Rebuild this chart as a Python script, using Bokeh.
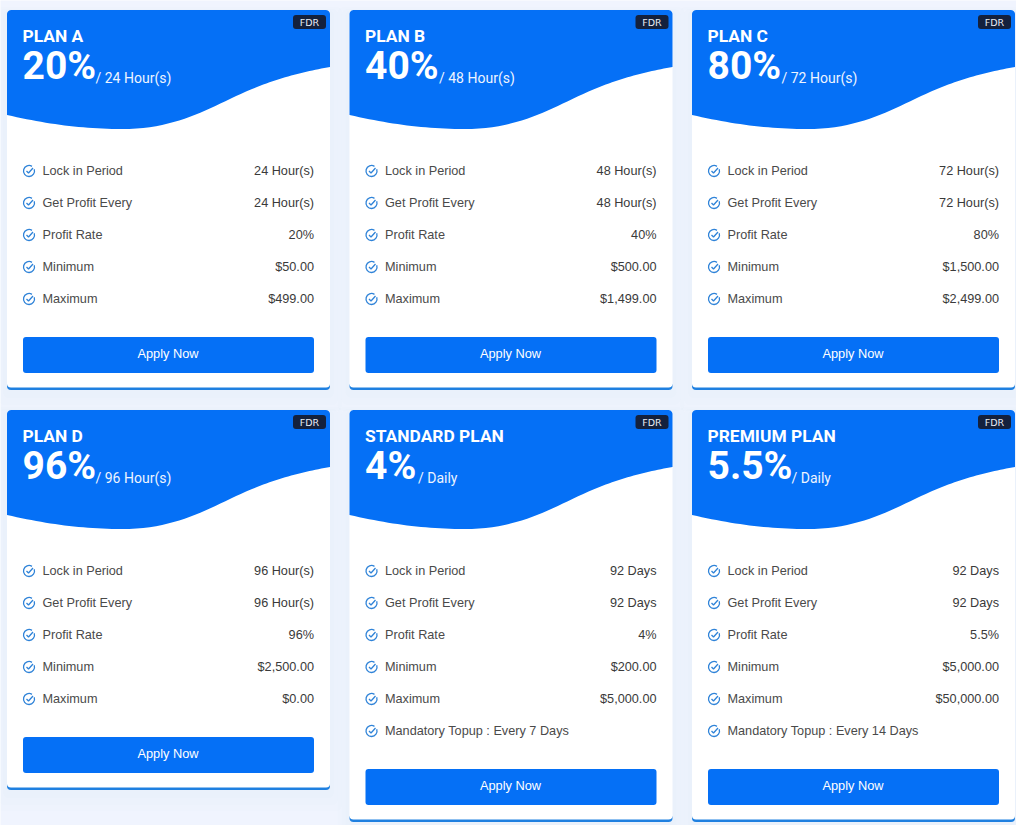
from bokeh.core.properties import value
from bokeh.embed import file_html
from bokeh.models import Range1d
from bokeh.plotting import figure
from bokeh.resources import INLINE

# values
plan_names = ["PLAN A", "PLAN B", "PLAN C", "PLAN D", "STANDARD PLAN", "PREMIUM PLAN"]
plan_rates = ["20%", "40%", "80%", "96%", "4%", "5.5%"]
plan_terms = ["/ 24 Hour(s)", "/ 48 Hour(s)", "/ 72 Hour(s)", "/ 96 Hour(s)", "/ Daily", "/ Daily"]
lock_periods = ["24 Hour(s)", "48 Hour(s)", "72 Hour(s)", "96 Hour(s)", "92 Days", "92 Days"]
profit_every = ["24 Hour(s)", "48 Hour(s)", "72 Hour(s)", "96 Hour(s)", "92 Days", "92 Days"]
profit_rates = ["20%", "40%", "80%", "96%", "4%", "5.5%"]
minimums = ["$50.00", "$500.00", "$1,500.00", "$2,500.00", "$200.00", "$5,000.00"]
maximums = ["$499.00", "$1,499.00", "$2,499.00", "$0.00", "$5,000.00", "$50,000.00"]
topups = [None, None, None, None, "Mandatory Topup : Every 7 Days", "Mandatory Topup : Every 14 Days"]
row_labels = ["Lock in Period", "Get Profit Every", "Profit Rate", "Minimum", "Maximum"]
badge_text = "FDR"
button_text = "Apply Now"

# layout
card_lefts = [7, 349.5, 692]
card_tops = [10, 410]
card_w = 323
rate_widths = [73, 74, 74, 73, 53, 84]

BLUE = "#0570f6"
LINE_BLUE = "#2f83d8"
BG = "#f0f4fe"
TITLE_FONT = "Roboto"
BODY_FONT = "Liberation Sans"


def bezier(p0, p1, p2, p3, n=24):
    out = []
    for i in range(n + 1):
        t = i / n
        a, b, c, d = (1 - t) ** 3, 3 * t * (1 - t) ** 2, 3 * t * t * (1 - t), t ** 3
        out.append((a * p0[0] + b * p1[0] + c * p2[0] + d * p3[0],
                    a * p0[1] + b * p1[1] + c * p2[1] + d * p3[1]))
    return out


# header outline, relative to the top left of a card
wave = (bezier((323, 57), (300, 61), (275, 67), (250, 77))
        + bezier((250, 77), (205, 95), (175, 119), (115, 119))
        + bezier((115, 119), (75, 119), (40, 114), (0, 105)))
corner_l = bezier((0, 4), (0, 2), (2, 0), (4, 0), 6)
corner_r = bezier((319, 0), (321, 0), (323, 2), (323, 4), 6)
header = corner_l + corner_r + wave

p = figure(width=1016, height=825, output_backend="svg", toolbar_location=None,
           x_range=Range1d(0.5, 1016.5), y_range=Range1d(825.5, 0.5), min_border=0)
p.axis.visible = False
p.grid.visible = False
p.outline_line_color = None
p.background_fill_color = BG
p.border_fill_color = BG


def add_text(x, y, text, size, color, font, align="left", style="normal"):
    p.text(x=[x], y=[y], text=[text], text_font=value(font), text_font_size=f"{size}px",
           text_color=color, text_align=align, text_baseline="middle",
           text_font_style=style)


def card_bottom(i):
    return card_tops[i // 3] + 380 + (32 if topups[i] else 0)


# soft shadows go underneath every card
for i in range(6):
    x0 = card_lefts[i % 3]
    for grow, drop in [(12, 9), (8, 7), (4, 4)]:
        p.quad(left=[x0 - grow], right=[x0 + card_w + grow], top=[card_tops[i // 3] - grow + drop],
               bottom=[card_bottom(i) + grow + drop], fill_color="#6f83b5", fill_alpha=0.012,
               line_color=None, border_radius=6)

for i in range(6):
    x0 = card_lefts[i % 3]
    top = card_tops[i // 3]
    x1 = x0 + card_w
    rows = [(row_labels[0], lock_periods[i]), (row_labels[1], profit_every[i]),
            (row_labels[2], profit_rates[i]), (row_labels[3], minimums[i]),
            (row_labels[4], maximums[i])]
    bottom = card_bottom(i)
    btn_top = bottom - 53

    p.quad(left=[x0], right=[x1], top=[bottom - 8], bottom=[bottom], fill_color="#1f80e0",
           line_color=None, border_radius=4)
    p.quad(left=[x0], right=[x1], top=[top], bottom=[bottom - 2.5], fill_color="white",
           line_color=None, border_radius=4)
    p.patch([x0 + q[0] for q in header], [top + q[1] for q in header], fill_color=BLUE,
            line_color=None)

    # badge
    p.quad(left=[x1 - 37], right=[x1 - 4], top=[top + 5], bottom=[top + 19],
           fill_color="#14213d", line_color=None, border_radius=3)
    add_text(x1 - 20.5, top + 12, badge_text, 9.5, "#e8ecf4", "DejaVu Sans", "center")

    # heading
    add_text(x0 + 15.5, top + 25.5, plan_names[i], 17.4, "white", TITLE_FONT, style="bold")
    add_text(x0 + 15.5, top + 55.5, plan_rates[i], 39, "white", TITLE_FONT, style="bold")
    add_text(x0 + 15.5 + rate_widths[i], top + 67.5, plan_terms[i], 14, "#eef4ff", TITLE_FONT)

    # feature rows
    labels = [r[0] for r in rows] + ([topups[i]] if topups[i] else [])
    for j, label in enumerate(labels):
        y = top + 160.5 + j * 32
        p.arc(x=[x0 + 22], y=[y + 0.5], radius=5.5, start_angle=1.0, end_angle=6.6,
              line_color=LINE_BLUE, line_width=1.3)
        p.line([x0 + 19.5, x0 + 21.5, x0 + 26], [y + 0.5, y + 2.5, y - 2.5],
               line_color=LINE_BLUE, line_width=1.3)
        add_text(x0 + 35.5, y, label, 12.7, "#4a4a4a", BODY_FONT)
        if j < 5:
            add_text(x1 - 16, y, rows[j][1], 12.7, "#3a3a3a", BODY_FONT, "right")

    # button
    p.quad(left=[x0 + 16], right=[x1 - 16], top=[btn_top], bottom=[btn_top + 36],
           fill_color=BLUE, line_color=None, border_radius=3)
    add_text((x0 + x1) / 2 - 0.5, btn_top + 16.5, button_text, 12.8, "white", BODY_FONT, "center")

open("out.html", "w").write(file_html(p, INLINE))
